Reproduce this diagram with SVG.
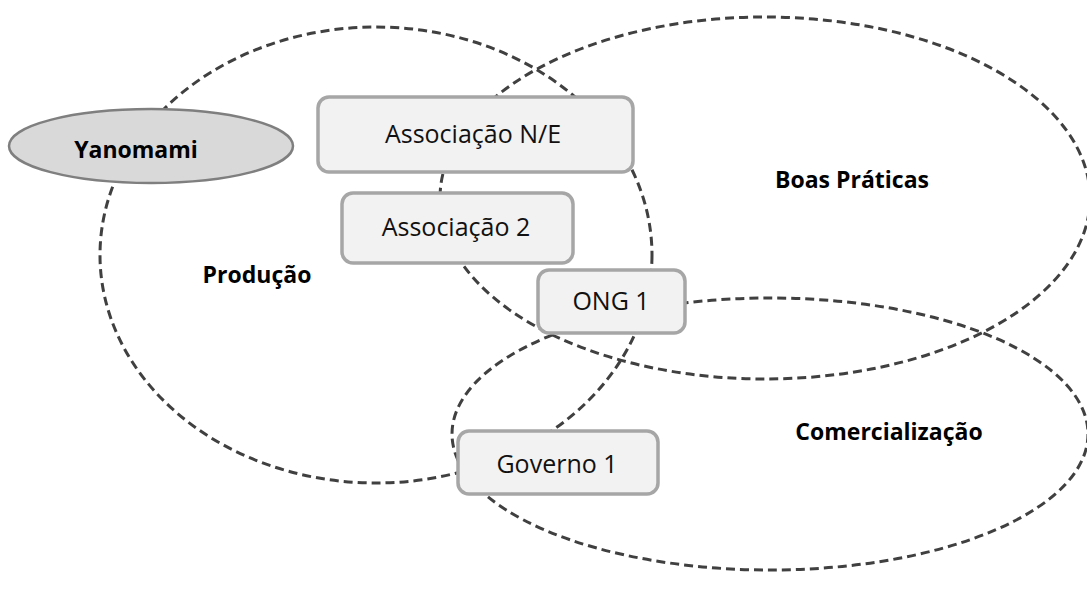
<svg xmlns="http://www.w3.org/2000/svg" width="1087" height="599" viewBox="0 0 1087 599">
  <style>
    .set { fill: none; stroke: #404040; stroke-width: 3; stroke-dasharray: 9 5; }
    .setlabel { font-family: "Open Sans", "Liberation Sans", sans-serif; font-weight: bold; font-size: 23px; fill: #000; text-anchor: middle; }
    .box { fill: #f2f2f2; stroke: #a6a6a6; stroke-width: 3.5; }
    .boxlabel { font-family: "Open Sans", "Liberation Sans", sans-serif; font-size: 25px; fill: #111; text-anchor: middle; }
    .actor { fill: #d9d9d9; stroke: #7f7f7f; stroke-width: 2.5; }
  </style>
  <rect width="1087" height="599" fill="#ffffff"/>
  <g id="producao">
    <ellipse class="set" cx="376" cy="255" rx="276" ry="228"/>
    <text class="setlabel" x="257" y="283">Produção</text>
  </g>
  <g id="boas-praticas">
    <ellipse class="set" cx="765" cy="198" rx="325" ry="181"/>
    <text class="setlabel" x="852" y="188">Boas Práticas</text>
  </g>
  <g id="comercializacao">
    <ellipse class="set" cx="770" cy="434" rx="318" ry="136"/>
    <text class="setlabel" x="889" y="440">Comercialização</text>
  </g>
  <g id="connectors"></g>
  <g id="yanomami">
    <ellipse class="actor" cx="151" cy="146" rx="142" ry="37"/>
    <text class="setlabel" x="136" y="158">Yanomami</text>
  </g>
  <g id="associacao-ne">
    <rect class="box" x="318" y="97" width="315" height="75" rx="11"/>
    <text class="boxlabel" x="473" y="143">Associação N/E</text>
  </g>
  <g id="associacao-2">
    <rect class="box" x="342" y="193" width="231" height="70" rx="11"/>
    <text class="boxlabel" x="456" y="236">Associação 2</text>
  </g>
  <g id="ong-1">
    <rect class="box" x="538" y="270" width="147" height="63" rx="11"/>
    <text class="boxlabel" x="611" y="310">ONG 1</text>
  </g>
  <g id="governo-1">
    <rect class="box" x="458" y="431" width="200" height="63" rx="11"/>
    <text class="boxlabel" x="557" y="473">Governo 1</text>
  </g>
</svg>
